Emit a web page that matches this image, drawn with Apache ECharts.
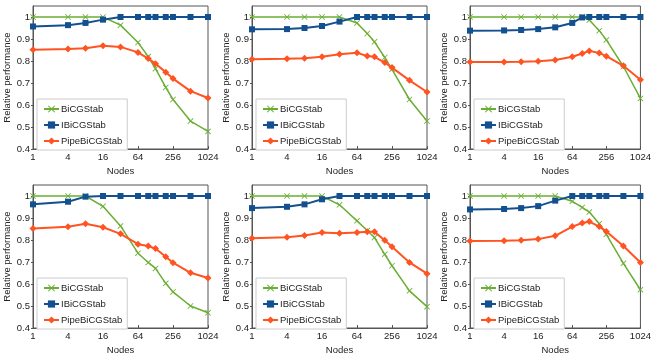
<!DOCTYPE html>
<html>
<head>
<meta charset="utf-8">
<script src="https://cdn.jsdelivr.net/npm/echarts@6/dist/echarts.min.js"></script>
<style>
  html, body { margin: 0; padding: 0; background: #fff; }
  #main { width: 654px; height: 358px; }
</style>
</head>
<body>
<div id="main"></div>
<script>
// node counts on the x axis (same for every panel)
let nodes = [1, 4, 8, 16, 32, 64, 96, 128, 192, 256, 512, 1024]

let names = ["BiCGStab", "IBiCGStab", "PipeBiCGStab"]
let colors = ["#6aae33", "#12508f", "#ff5422"]

// one row per panel, left to right, top to bottom
let bicgstab = [
    [1, 1, 1, 1, 0.963, 0.884, 0.82, 0.765, 0.68, 0.625, 0.527, 0.48],
    [1, 1, 1, 1, 1, 0.973, 0.925, 0.887, 0.816, 0.762, 0.625, 0.527],
    [1, 1, 1, 1, 1, 1, 1, 0.986, 0.938, 0.896, 0.775, 0.63],
    [1, 1, 1, 0.953, 0.864, 0.74, 0.698, 0.671, 0.603, 0.564, 0.5, 0.469],
    [1, 1, 1, 1, 0.96, 0.887, 0.843, 0.811, 0.735, 0.683, 0.569, 0.497],
    [1, 1, 1, 1, 1, 0.976, 0.948, 0.927, 0.874, 0.826, 0.694, 0.574]
]

let ibicgstab = [
    [0.957, 0.963, 0.973, 0.988, 1, 1, 1, 1, 1, 1, 1, 1],
    [0.944, 0.945, 0.95, 0.959, 0.979, 1, 1, 1, 1, 1, 1, 1],
    [0.938, 0.939, 0.941, 0.945, 0.953, 0.973, 0.998, 1, 1, 1, 1, 1],
    [0.962, 0.974, 0.997, 1, 1, 1, 1, 1, 1, 1, 1, 1],
    [0.945, 0.951, 0.962, 0.985, 1, 1, 1, 1, 1, 1, 1, 1],
    [0.939, 0.941, 0.945, 0.954, 0.979, 1, 1, 1, 1, 1, 1, 1]
]

let pipebicgstab = [
    [0.851, 0.854, 0.858, 0.869, 0.864, 0.839, 0.811, 0.788, 0.749, 0.72, 0.663, 0.632],
    [0.808, 0.81, 0.813, 0.819, 0.831, 0.837, 0.823, 0.819, 0.793, 0.77, 0.712, 0.659],
    [0.796, 0.796, 0.797, 0.799, 0.805, 0.819, 0.834, 0.846, 0.836, 0.822, 0.778, 0.715],
    [0.852, 0.86, 0.874, 0.858, 0.828, 0.781, 0.773, 0.761, 0.724, 0.697, 0.651, 0.627],
    [0.808, 0.813, 0.82, 0.834, 0.831, 0.834, 0.837, 0.837, 0.799, 0.769, 0.698, 0.647],
    [0.796, 0.797, 0.799, 0.804, 0.819, 0.861, 0.877, 0.884, 0.861, 0.839, 0.773, 0.698]
]

let font = "Liberation Sans"
let fs = 9.5
let lefts = [33, 252, 470]
let tops = [6, 185]
// little "x" cross used for BiCGStab points
let xMark = "path://M0,1L1,0L5,4L9,0L10,1L6,5L10,9L9,10L5,6L1,10L0,9L4,5Z"

var myChart = echarts.init(document.getElementById('main'))

let grids = [], xAxes = [], yAxes = [], legends = [], series = []

for (let p = 0; p < 6; p++) {
    let left = lefts[p % 3]
    let top = tops[Math.floor(p / 3)]

    grids.push({
        left: left, top: top, width: 175, height: 143,
        show: true, borderColor: '#555', borderWidth: 1, backgroundColor: 'transparent'
    })

    xAxes.push({
        type: 'log', logBase: 4, min: 1, max: 1024, gridIndex: p,
        name: 'Nodes', nameLocation: 'middle', nameGap: 17,
        nameTextStyle: { fontFamily: font, fontSize: fs, color: '#222' },
        axisLine: { lineStyle: { color: '#555' } },
        axisTick: { inside: true, length: 3, lineStyle: { color: '#555' } },
        axisLabel: {
            fontFamily: font, fontSize: fs, color: '#222', margin: 3,
            formatter: v => String(Math.round(v))
        },
        splitLine: { show: false }
    })

    yAxes.push({
        type: 'value', min: 0.4, max: 1.05, interval: 0.1, gridIndex: p,
        name: 'Relative performance', nameLocation: 'middle', nameGap: 21,
        nameTextStyle: { fontFamily: font, fontSize: fs, color: '#222' },
        axisLine: { show: true, lineStyle: { color: '#555' } },
        axisTick: { show: true, length: 2, lineStyle: { color: '#555' } },
        axisLabel: { fontFamily: font, fontSize: fs, color: '#222', margin: 3, showMaxLabel: false },
        splitLine: { show: false }
    })

    legends.push({
        data: names, orient: 'vertical', left: left + 4, top: top + 93,
        itemWidth: 15, itemHeight: 9, itemGap: 6, padding: [5, 5, 4, 6],
        borderColor: '#ccc', borderWidth: 1, backgroundColor: '#fff',
        selectedMode: false,
        textStyle: { fontFamily: font, fontSize: fs, color: '#222', padding: [0, 0, 0, -3] }
    })

    let sets = [bicgstab[p], ibicgstab[p], pipebicgstab[p]]
    let symbols = [xMark, 'rect', 'diamond']
    let sizes = [6, 6, 7]
    let widths = [1.5, 2, 2]
    for (let s = 0; s < 3; s++) {
        series.push({
            name: names[s],
            type: 'line',
            xAxisIndex: p, yAxisIndex: p,
            data: nodes.map((n, i) => [n, sets[s][i]]),
            symbol: symbols[s], symbolSize: sizes[s], showSymbol: true,
            itemStyle: { color: colors[s] },
            lineStyle: { color: colors[s], width: widths[s] },
            animation: false
        })
    }
}

var option = {
    animation: false,
    grid: grids,
    xAxis: xAxes,
    yAxis: yAxes,
    legend: legends,
    series: series
}

myChart.setOption(option)
</script>
</body>
</html>
